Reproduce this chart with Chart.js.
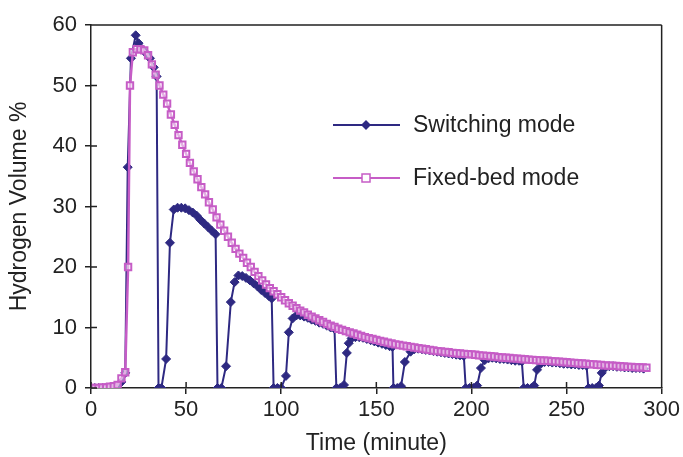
<!DOCTYPE html>
<html>
<head>
<meta charset="utf-8">
<script src="https://cdn.jsdelivr.net/npm/chart.js@4.4.1/dist/chart.umd.min.js"></script>
<style>
  html, body { margin: 0; padding: 0; background: #fff; }
  #wrap { width: 683px; height: 457px; position: relative; }
</style>
</head>
<body>
<div id="wrap"><canvas id="canvas"></canvas></div>
<script>
// values
var fixedTime = [0, 2, 4, 6, 8, 10, 12, 14, 16, 18, 19.5, 20.5, 22, 24, 26, 28, 30, 32, 34, 36,
  38, 40, 42, 44, 46, 48, 50, 52, 54, 56, 58, 60, 62, 64, 66, 68, 70, 72, 74, 76,
  78, 80, 82, 84, 86, 88, 90, 92, 94, 96, 98, 100, 102, 104, 106, 108, 110, 112, 114, 116,
  118, 120, 122, 124, 126, 128, 130, 132, 134, 136, 138, 140, 142, 144, 146, 148, 150, 152, 154, 156,
  158, 160, 162, 164, 166, 168, 170, 172, 174, 176, 178, 180, 182, 184, 186, 188, 190, 192, 194, 196,
  198, 200, 202, 204, 206, 208, 210, 212, 214, 216, 218, 220, 222, 224, 226, 228, 230, 232, 234, 236,
  238, 240, 242, 244, 246, 248, 250, 252, 254, 256, 258, 260, 262, 264, 266, 268, 270, 272, 274, 276,
  278, 280, 282, 284, 286, 288, 290, 292];
var fixedH2 = [0, 0, 0, 0.1, 0.1, 0.2, 0.3, 0.5, 1.6, 2.6, 20, 50, 55.5, 56, 56, 55.8, 55, 53.5, 51.8, 50,
  48.5, 47, 45.2, 43.5, 41.8, 40.2, 38.7, 37.2, 35.8, 34.5, 33.2, 32, 30.7, 29.5, 28.2, 27, 26, 25, 24, 23,
  22.2, 21.5, 20.7, 20, 19.2, 18.5, 17.8, 17.1, 16.5, 16, 15.5, 15, 14.5, 14, 13.6, 13.2, 12.8, 12.5, 12.1, 11.8,
  11.5, 11.2, 10.9, 10.6, 10.3, 10.1, 9.8, 9.6, 9.4, 9.2, 9, 8.8, 8.6, 8.4, 8.25, 8.1, 7.95, 7.8, 7.65, 7.5,
  7.35, 7.2, 7.1, 7, 6.9, 6.8, 6.7, 6.6, 6.5, 6.4, 6.3, 6.2, 6.1, 6.05, 5.95, 5.9, 5.8, 5.75, 5.7, 5.65,
  5.6, 5.55, 5.5, 5.4, 5.35, 5.3, 5.25, 5.2, 5.1, 5.05, 5, 4.95, 4.9, 4.85, 4.8, 4.75, 4.7, 4.65, 4.6, 4.55,
  4.5, 4.5, 4.45, 4.4, 4.35, 4.3, 4.25, 4.2, 4.15, 4.1, 4.05, 4, 3.95, 3.9, 3.85, 3.8, 3.75, 3.7, 3.7, 3.65,
  3.6, 3.55, 3.5, 3.5, 3.45, 3.4, 3.4, 3.35];

var switchTime = [0, 2, 4, 6, 8, 10, 12, 14, 16, 18, 19.3, 21, 23.5, 25, 27, 29, 31, 33, 34.5,
  35.5, 37, 39.5, 41.5, 43.5, 45.5, 47.5, 49.5, 51.5, 53.5, 55.5, 57.5, 59.5, 61.5, 63.5, 65.5,
  66.5, 68.5, 71, 73.5, 75.5, 77.5, 79.5, 81.5, 83.5, 85.5, 87.5, 89.5, 91.5, 93.5, 95,
  96, 98, 100, 102.5, 104, 106, 108, 110, 112, 114, 116, 118, 120, 122, 124, 126, 128,
  129, 131, 133, 134.5, 135.5, 137, 139, 141, 143, 145, 147, 149, 151, 153, 155, 157, 158.5,
  159, 161, 163, 165, 168, 170, 172, 174, 176, 178, 180, 182, 184, 186, 188, 190, 192, 194, 196,
  197, 199, 201, 203, 205, 207, 209, 211, 213, 215, 217, 219, 221, 223, 225, 226.5,
  227.5, 229.5, 231.5, 233, 234.5, 236.5, 238.5, 240.5, 242.5, 244.5, 246.5, 248.5, 250.5, 252.5, 254.5, 256.5, 258.5, 260.5,
  261.5, 263.5, 265.5, 267, 268.5, 270.5, 272.5, 274.5, 276.5, 278.5, 280.5, 282.5, 284.5, 286.5, 288.5, 290.5];
var switchH2 = [0, 0, 0, 0, 0, 0, 0.2, 0.4, 1, 2.5, 36.5, 54.5, 58.3, 57, 56, 55.3, 54.5, 53, 51.5,
  0, 0, 4.8, 24, 29.5, 29.8, 29.8, 29.7, 29.4, 29, 28.5, 27.8, 27.2, 26.6, 26, 25.4,
  0, 0, 3.6, 14.2, 17.5, 18.6, 18.5, 18.2, 17.8, 17.3, 16.8, 16.2, 15.7, 15.2, 14.8,
  0, 0, 0, 2, 9.2, 11.5, 12, 12, 11.8, 11.6, 11.3, 11.1, 10.8, 10.6, 10.3, 10, 9.8,
  0, 0, 0.5, 5.8, 7.4, 8.2, 8.4, 8.4, 8.3, 8.1, 7.9, 7.7, 7.5, 7.3, 7.1, 6.9, 6.8,
  0, 0, 0.3, 4.3, 6, 6.4, 6.5, 6.4, 6.3, 6.2, 6.1, 6, 5.9, 5.8, 5.7, 5.6, 5.5, 5.4, 5.3,
  0, 0, 0, 0.4, 3.3, 4.6, 4.9, 5, 4.9, 4.8, 4.8, 4.7, 4.6, 4.5, 4.5, 4.4,
  0, 0, 0, 0.4, 3, 4, 4.3, 4.3, 4.2, 4.2, 4.1, 4, 4, 3.9, 3.9, 3.8, 3.8, 3.7,
  0, 0, 0, 0.4, 2.5, 3.4, 3.6, 3.6, 3.5, 3.5, 3.4, 3.4, 3.3, 3.3, 3.3, 3.2];

var seriesNames = ['Switching mode', 'Fixed-bed mode'];
var xTicks = [0, 50, 100, 150, 200, 250, 300];
var yTicks = [0, 10, 20, 30, 40, 50, 60];

var navy = 'rgb(46, 41, 130)';
var pink = 'rgb(198, 92, 198)';
var FONT = '"Liberation Sans", Arial, sans-serif';

function toPoints(xs, ys) {
    var pts = [];
    for (var i = 0; i < xs.length; i++) pts.push({x: xs[i], y: ys[i]});
    return pts;
}

// frame, inner tick marks and the legend inside the plot
var framePlugin = {
    id: 'frame',
    afterDraw: function(chart) {
        var ctx = chart.ctx;
        var a = chart.chartArea;
        var xs = chart.scales.x, ys = chart.scales.y;
        ctx.save();
        ctx.strokeStyle = '#222';
        ctx.lineWidth = 1.5;
        ctx.beginPath();
        ctx.moveTo(a.left, a.top); ctx.lineTo(a.right, a.top);
        ctx.moveTo(a.right, a.top); ctx.lineTo(a.right, a.bottom);
        xTicks.forEach(function(t) {
            var px = xs.getPixelForValue(t);
            ctx.moveTo(px, a.bottom); ctx.lineTo(px, a.bottom - 6);
        });
        yTicks.forEach(function(t) {
            var py = ys.getPixelForValue(t);
            ctx.moveTo(a.left, py); ctx.lineTo(a.left + 6, py);
        });
        ctx.stroke();

        // legend
        var items = [
            {name: seriesNames[0], color: navy, y: 125, style: 'diamond'},
            {name: seriesNames[1], color: pink, y: 178, style: 'square'}
        ];
        items.forEach(function(it) {
            ctx.strokeStyle = it.color;
            ctx.lineWidth = 2;
            ctx.beginPath();
            ctx.moveTo(333, it.y); ctx.lineTo(400, it.y);
            ctx.stroke();
            if (it.style === 'diamond') {
                ctx.fillStyle = it.color;
                ctx.beginPath();
                ctx.moveTo(366, it.y - 5); ctx.lineTo(371, it.y);
                ctx.lineTo(366, it.y + 5); ctx.lineTo(361, it.y);
                ctx.closePath();
                ctx.fill();
            } else {
                ctx.fillStyle = '#fff';
                ctx.fillRect(362, it.y - 4, 8, 8);
                ctx.lineWidth = 1.5;
                ctx.strokeRect(362, it.y - 4, 8, 8);
            }
            ctx.fillStyle = '#222';
            ctx.font = '23px ' + FONT;
            ctx.textAlign = 'left';
            ctx.textBaseline = 'middle';
            ctx.fillText(it.name, 413, it.y + 1);
        });
        ctx.restore();
    }
};

var ctx = document.getElementById('canvas').getContext('2d');
window.myChart = new Chart(ctx, {
    type: 'scatter',
    data: {
        datasets: [{
            label: seriesNames[1],
            data: toPoints(fixedTime, fixedH2),
            showLine: true,
            borderColor: pink,
            backgroundColor: 'rgba(255,255,255,0.5)',
            borderWidth: 2.5,
            pointStyle: 'rect',
            pointRadius: 4.5,
            pointBorderWidth: 2,
            pointBorderColor: pink,
            order: 0
        }, {
            label: seriesNames[0],
            data: toPoints(switchTime, switchH2),
            showLine: true,
            borderColor: navy,
            backgroundColor: navy,
            borderWidth: 2,
            pointStyle: 'rectRot',
            pointRadius: 4.5,
            pointBorderWidth: 1,
            order: 1
        }]
    },
    options: {
        responsive: true,
        maintainAspectRatio: false,
        animation: false,
        layout: { padding: { top: 25, right: 18, left: 0, bottom: 0 } },
        plugins: {
            legend: { display: false },
            tooltip: { enabled: false }
        },
        scales: {
            x: {
                type: 'linear',
                min: 0, max: 300,
                afterBuildTicks: function(scale) {
                    scale.ticks = xTicks.map(function(v) { return {value: v}; });
                },
                afterFit: function(scale) { scale.height = 69; },
                grid: { drawOnChartArea: false, drawTicks: true, tickLength: 6, color: '#222', lineWidth: 1.5 },
                border: { display: true, color: '#222', width: 1.5 },
                ticks: { color: '#222', font: { family: FONT, size: 22 }, padding: 3, maxRotation: 0 },
                title: { display: true, text: 'Time (minute)', color: '#222', font: { family: FONT, size: 23 }, padding: { top: 0, bottom: 0 } }
            },
            y: {
                type: 'linear',
                min: 0, max: 60,
                afterBuildTicks: function(scale) {
                    scale.ticks = yTicks.map(function(v) { return {value: v}; });
                },
                afterFit: function(scale) { scale.width = 91; },
                grid: { drawOnChartArea: false, drawTicks: true, tickLength: 6, color: '#222', lineWidth: 1.5 },
                border: { display: true, color: '#222', width: 1.5 },
                ticks: { color: '#222', font: { family: FONT, size: 22 }, padding: 8 },
                title: { display: true, text: 'Hydrogen Volume %', color: '#222', font: { family: FONT, size: 23 }, padding: { top: 6, bottom: 4 } }
            }
        }
    },
    plugins: [framePlugin]
});
</script>
</body>
</html>
